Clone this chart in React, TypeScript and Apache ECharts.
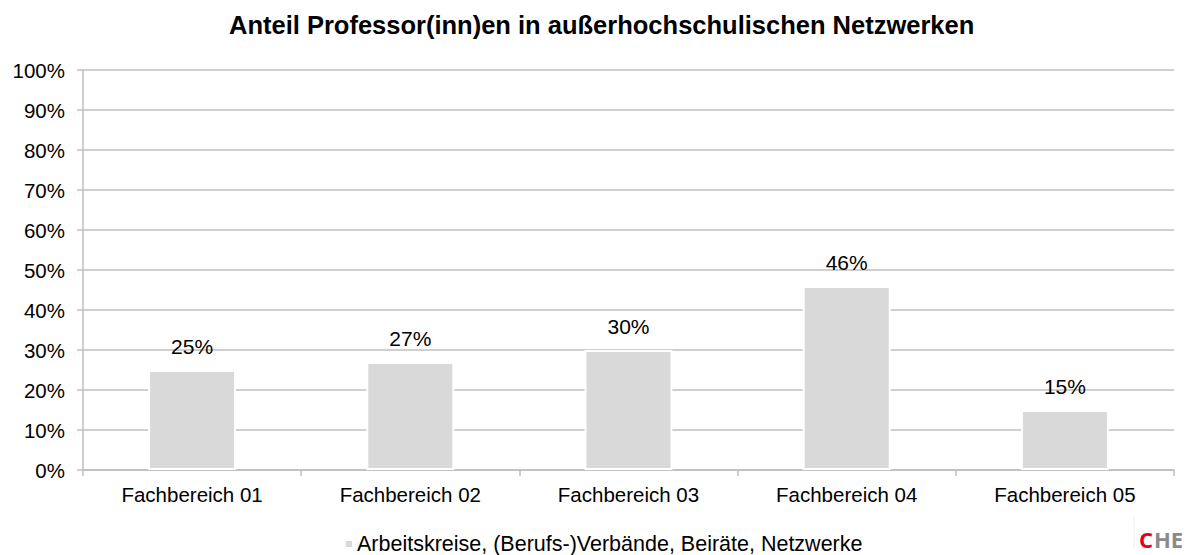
import React, { useEffect, useRef } from "react";
import * as echarts from "echarts";

const titleText = "Anteil Professor(inn)en in außerhochschulischen Netzwerken";
const categories = ["Fachbereich 01", "Fachbereich 02", "Fachbereich 03", "Fachbereich 04", "Fachbereich 05"];
const seriesName = "Arbeitskreise, (Berufs-)Verbände, Beiräte, Netzwerke";
const values = [25, 27, 30, 46, 15];

const FONT = "'Liberation Sans', Arial, sans-serif";
const LOGO_FONT = "'Open Sans', 'Liberation Sans', Arial, sans-serif";

export default function App() {
  const ref = useRef<HTMLDivElement>(null);
  useEffect(() => {
    document.body.style.margin = "0";
    const chart = echarts.init(ref.current!, null, { renderer: "svg" });
    chart.setOption({
      animation: false,
      backgroundColor: "#ffffff",
      textStyle: { fontFamily: FONT },
      title: {
        text: titleText,
        left: 229,
        top: 12,
        padding: 0,
        textStyle: { fontFamily: FONT, fontSize: 25.5, fontWeight: "bold", color: "#000" },
      },
      legend: {
        data: [seriesName],
        top: 533,
        left: 344,
        icon: "rect",
        itemWidth: 8,
        itemHeight: 8,
        itemGap: 4,
        padding: 0,
        textStyle: { fontFamily: FONT, fontSize: 21.5, color: "#000", padding: [0, 0, 0, -1] },
      },
      grid: { left: 83, right: 18, top: 70, bottom: 85, containLabel: false },
      xAxis: {
        type: "category",
        data: categories,
        axisLine: { show: true, lineStyle: { color: "#bfbfbf", width: 1.5 } },
        axisTick: { show: true, length: 6, lineStyle: { color: "#bfbfbf", width: 1.5 } },
        axisLabel: { fontFamily: FONT, fontSize: 20.5, color: "#000", margin: 14 },
      },
      yAxis: {
        type: "value",
        min: 0,
        max: 100,
        interval: 10,
        axisLine: { show: true, lineStyle: { color: "#bfbfbf", width: 1.5 } },
        axisTick: { show: true, length: 6, lineStyle: { color: "#bfbfbf", width: 1.5 } },
        axisLabel: { fontFamily: FONT, fontSize: 20.5, color: "#000", margin: 18, formatter: "{value}%" },
        splitLine: { show: true, lineStyle: { color: "#bfbfbf", width: 1.5 } },
      },
      series: [
        {
          name: seriesName,
          type: "bar",
          data: values,
          barWidth: 88,
          itemStyle: { color: "#d9d9d9", borderColor: "#ffffff", borderWidth: 2 },
          label: {
            show: true,
            position: "top",
            distance: 13,
            formatter: "{c}%",
            fontFamily: FONT,
            fontSize: 21,
            color: "#000",
          },
        },
      ],
      graphic: [
        {
          type: "line",
          shape: { x1: 1134, y1: 515, x2: 1134, y2: 548 },
          style: { stroke: "#f0f0f0", lineWidth: 1 },
        },
        {
          type: "text",
          x: 1139,
          y: 539,
          style: {
            text: "C",
            fill: "#e2001a",
            fontSize: 22,
            fontWeight: "bold",
            fontFamily: LOGO_FONT,
            textVerticalAlign: "middle",
          },
        },
        {
          type: "text",
          x: 1154,
          y: 539,
          style: {
            text: "HE",
            fill: "#8a8a8a",
            fontSize: 22,
            fontWeight: "bold",
            fontFamily: LOGO_FONT,
            textVerticalAlign: "middle",
          },
        },
      ],
    });
    return () => chart.dispose();
  }, []);
  return <div ref={ref} style={{ width: 1192, height: 555 }} />;
}
